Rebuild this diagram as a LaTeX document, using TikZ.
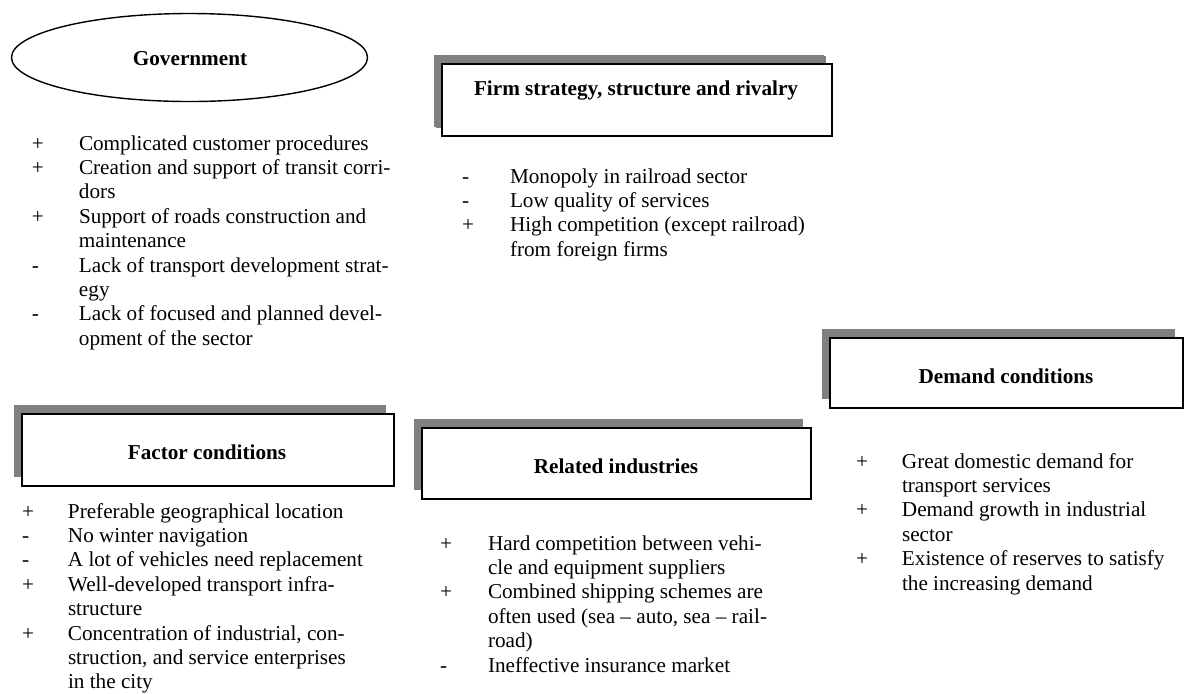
\documentclass[tikz,border=0pt]{standalone}
\usepackage{fontspec}
\setmainfont{Liberation Serif}
\usetikzlibrary{shadows,shapes.geometric}
\definecolor{shadowgray}{RGB}{128,128,128}
\begin{document}
\begin{tikzpicture}[x=0.5pt,y=-0.5pt,
  txt/.style={font=\fontsize{10.6}{12.2}\selectfont, inner sep=0pt, outer sep=0pt},
  heading/.style={inner sep=0pt, font=\fontsize{10.6}{12.2}\selectfont\bfseries, anchor=base},
  itemlist/.style={txt, anchor=base west},
  panel/.style={draw, line width=1pt, fill=white, rectangle, inner sep=0pt,
    general shadow={fill=shadowgray, shadow xshift=-4pt, shadow yshift=4.5pt}},
  govshape/.style={draw, line width=0.7pt, ellipse, inner sep=0pt}
]
\fill[white] (0,0) rectangle (1186,693);
\useasboundingbox (0,0) rectangle (1186,693);

% Government
\node[govshape, minimum width=178pt, minimum height=44pt] (gov) at (189.5,57.5) {};
\node[heading] (govtitle) at (190,65) {Government};
\node[itemlist] (govlist) at (32,150) {\begin{tabular}[t]{@{}p{23.5pt}@{}l@{}}
+ & Complicated customer procedures\\
+ & Creation and support of transit corri-\\
  & dors\\
+ & Support of roads construction and\\
  & maintenance\\
- & Lack of transport development strat-\\
  & egy\\
- & Lack of focused and planned devel-\\
  & opment of the sector
\end{tabular}};

% Firm strategy
\node[panel, minimum width=195pt, minimum height=36pt,
  general shadow={fill=shadowgray, shadow xshift=-3pt, shadow yshift=4pt}] (firm) at (636.5,100) {};
\node[heading] (firmtitle) at (636,95) {Firm strategy, structure and rivalry};
\node[itemlist] (firmlist) at (462,183) {\begin{tabular}[t]{@{}p{24pt}@{}l@{}}
- & Monopoly in railroad sector\\
- & Low quality of services\\
+ & High competition (except railroad)\\
  & from foreign firms
\end{tabular}};

% Demand conditions
\node[panel, minimum width=176.5pt, minimum height=35pt] (demand) at (1006.5,373) {};
\node[heading] (demandtitle) at (1006,383) {Demand conditions};
\node[itemlist] (demandlist) at (856,468) {\begin{tabular}[t]{@{}p{23pt}@{}l@{}}
+ & Great domestic demand for\\
  & transport services\\
+ & Demand growth in industrial\\
  & sector\\
+ & Existence of reserves to satisfy\\
  & the increasing demand
\end{tabular}};

% Factor conditions
\node[panel, minimum width=186pt, minimum height=36pt] (factor) at (208,450) {};
\node[heading] (factortitle) at (207,459) {Factor conditions};
\node[itemlist] (factorlist) at (22,518) {\begin{tabular}[t]{@{}p{23pt}@{}l@{}}
+ & Preferable geographical location\\
- & No winter navigation\\
- & A lot of vehicles need replacement\\
+ & Well-developed transport infra-\\
  & structure\\
+ & Concentration of industrial, con-\\
  & struction, and service enterprises\\
  & in the city
\end{tabular}};

% Related industries
\node[panel, minimum width=194.5pt, minimum height=35.5pt] (related) at (616.5,463.5) {};
\node[heading] (relatedtitle) at (616,473) {Related industries};
\node[itemlist] (relatedlist) at (440,550) {\begin{tabular}[t]{@{}p{24pt}@{}l@{}}
+ & Hard competition between vehi-\\
  & cle and equipment suppliers\\
+ & Combined shipping schemes are\\
  & often used (sea – auto, sea – rail-\\
  & road)\\
- & Ineffective insurance market
\end{tabular}};
\end{tikzpicture}
\end{document}
